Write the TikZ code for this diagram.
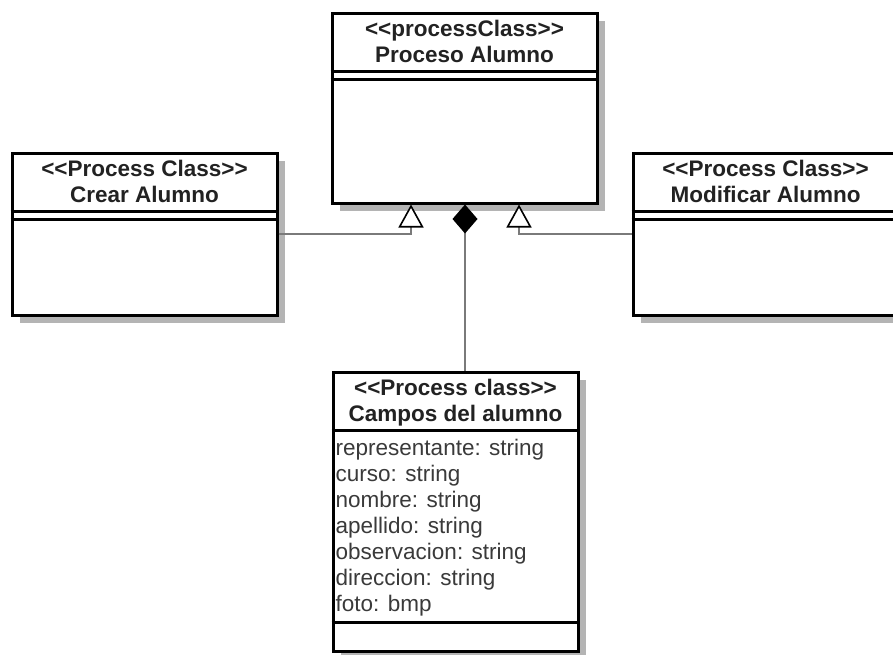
\documentclass[tikz,border=0pt]{standalone}
\usepackage{fontspec}
\setmainfont{Liberation Sans}[Ligatures=NoCommon]
\usetikzlibrary{shadows,arrows.meta}
\definecolor{shadowgray}{HTML}{B4B4B4}
\definecolor{conngray}{HTML}{7A7A7A}
\definecolor{txt}{HTML}{222222}
\definecolor{attrtxt}{HTML}{3A3A3A}
\newcommand{\ltlt}{<{}<}
\newcommand{\gtgt}{>{}>}
\begin{document}
\begin{tikzpicture}[x=1pt,y=-1pt,
  cls/.style={draw=black, line width=3pt, fill=white, rectangle, inner sep=0pt,
    drop shadow={shadow xshift=8pt, shadow yshift=-8pt, fill=shadowgray, opacity=1}},
  divline/.style={draw=black, line width=3pt},
  hdr/.style={anchor=base, inner sep=0pt, text=txt, font=\fontsize{22.5}{26}\selectfont\bfseries},
  attr/.style={anchor=base west, inner sep=0pt, text=attrtxt, font=\fontsize{22.5}{26}\selectfont},
  conn/.style={draw=conngray, line width=2.4pt},
  gen/.style={conn, -{Triangle[length=23pt,width=25pt,line width=1.6pt,color=black,fill=white]}},
  comp/.style={conn, {Diamond[length=29pt,width=25pt,color=black]}-}
]
\clip (0,0) rectangle (893,654);
\fill[white] (0,0) rectangle (893,654);

% class boxes
\node[cls, minimum width=265pt, minimum height=190pt] (pa) at (464.5,108) {};
\node[cls, minimum width=265pt, minimum height=162pt] (cr) at (144.5,234) {};
\node[cls, minimum width=265pt, minimum height=162pt] (mo) at (765.5,234) {};
\node[cls, minimum width=245pt, minimum height=279pt] (ca) at (455.5,511.5) {};

% compartment dividers
\foreach \b in {pa,cr,mo}{
  \draw[divline] ([yshift=-60pt]\b.north west) -- ([yshift=-60pt]\b.north east);
  \draw[divline] ([yshift=-68pt]\b.north west) -- ([yshift=-68pt]\b.north east);
}
\draw[divline] ([yshift=-60pt]ca.north west) -- ([yshift=-60pt]ca.north east);
\draw[divline] ([yshift=-252pt]ca.north west) -- ([yshift=-252pt]ca.north east);

% headers
\node[hdr] (pas) at ([yshift=-25pt]pa.north) {\ltlt processClass\gtgt};
\node[hdr] (pan) at ([yshift=-51pt]pa.north) {Proceso Alumno};
\node[hdr] (crs) at ([yshift=-25pt]cr.north) {\ltlt Process Class\gtgt};
\node[hdr] (crn) at ([yshift=-51pt]cr.north) {Crear Alumno};
\node[hdr] (mos) at ([yshift=-25pt]mo.north) {\ltlt Process Class\gtgt};
\node[hdr] (mon) at ([yshift=-51pt]mo.north) {Modificar Alumno};
\node[hdr] (cas) at ([yshift=-25pt]ca.north) {\ltlt Process class\gtgt};
\node[hdr] (can) at ([yshift=-51pt]ca.north) {Campos del alumno};

% attributes
\foreach \t [count=\i from 0] in {representante: string, curso: string, nombre: string, apellido: string, observacion: string, direccion: string, foto: bmp}{
  \node[attr] (attr\i) at ([xshift=4pt,yshift={-85pt-26pt*\i}]ca.north west) {\t};
}

% connectors
\coordinate (ga) at ([xshift=-53.5pt]pa.south);
\coordinate (gb) at ([xshift=54.5pt]pa.south);
\draw[gen] (cr.east) -| (ga);
\draw[gen] (mo.west) -| (gb);
\draw[comp] ([xshift=0.5pt]pa.south) -- ([xshift=0.5pt]pa.south |- ca.north);
\end{tikzpicture}
\end{document}
